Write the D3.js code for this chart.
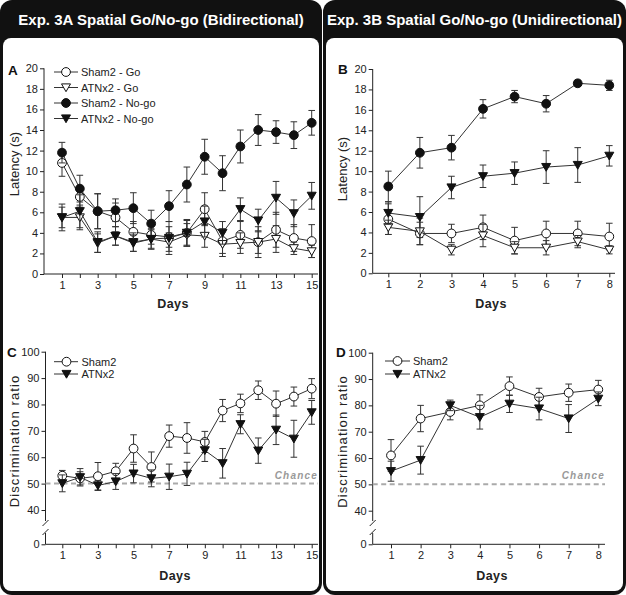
<!DOCTYPE html>
<html><head><meta charset="utf-8">
<script src="https://cdn.jsdelivr.net/npm/d3@7"></script>
<style>
body{margin:0;background:#fff;}
svg{display:block;font-family:"Liberation Sans",Arial,Helvetica,sans-serif;}
</style></head><body>
<svg id="c" width="626" height="595"></svg>
<script>
// ---------- data ----------
const days15 = d3.range(1, 16);
const days8 = d3.range(1, 9);
const latencyTicks = d3.range(0, 21, 2);
const ratioTicks = [0, 40, 50, 60, 70, 80, 90, 100];

// Panel A (Exp 3A, latency)
const aShamGo      = [10.8, 7.5, 6.1, 5.5, 4.1, 3.8, 3.6, 4.0, 6.3, 3.2, 3.8, 3.1, 4.3, 3.5, 3.2];
const aShamGoErr   = [1.3, 1.0, 1.7, 1.4, 1.0, 0.9, 1.0, 1.2, 1.6, 1.2, 1.3, 1.1, 1.7, 1.3, 1.6];
const aAtnGo       = [5.5, 5.5, 3.0, 3.7, 3.1, 3.4, 3.1, 3.8, 3.7, 2.9, 3.0, 3.1, 3.4, 2.5, 2.2];
const aAtnGoErr    = [1.0, 1.2, 0.9, 0.9, 0.9, 1.0, 0.9, 1.1, 1.1, 1.2, 1.0, 1.5, 1.3, 0.6, 0.6];
const aShamNogo    = [11.8, 8.3, 6.1, 6.2, 6.4, 4.9, 6.6, 8.7, 11.4, 9.8, 12.4, 14.0, 13.8, 13.5, 14.7];
const aShamNogoErr = [1.0, 1.3, 1.7, 1.1, 1.5, 1.3, 1.5, 1.7, 1.7, 1.7, 1.6, 1.5, 1.1, 1.3, 1.2];
const aAtnNogo     = [5.5, 6.1, 3.1, 3.7, 3.0, 3.4, 3.5, 4.0, 5.1, 4.0, 6.3, 5.2, 7.4, 5.9, 7.6];
const aAtnNogoErr  = [1.3, 1.6, 1.0, 0.9, 0.8, 0.9, 1.6, 1.3, 1.5, 1.1, 1.1, 1.1, 1.6, 1.3, 1.3];

// Panel B (Exp 3B, latency)
const bShamGo      = [5.3, 3.9, 3.9, 4.5, 3.2, 3.9, 3.9, 3.6];
const bShamGoErr   = [1.5, 1.1, 0.9, 1.2, 1.3, 1.2, 1.2, 1.3];
const bAtnGo       = [4.5, 4.1, 2.3, 3.7, 2.5, 2.5, 3.1, 2.3];
const bAtnGoErr    = [0.7, 1.3, 0.5, 1.1, 0.6, 0.7, 0.6, 0.4];
const bShamNogo    = [8.5, 11.8, 12.3, 16.1, 17.3, 16.6, 18.6, 18.4];
const bShamNogoErr = [1.5, 1.5, 1.2, 0.9, 0.6, 0.8, 0.3, 0.5];
const bAtnNogo     = [5.9, 5.5, 8.4, 9.5, 9.8, 10.4, 10.6, 11.5];
const bAtnNogoErr  = [1.1, 2.0, 1.1, 1.1, 1.1, 1.6, 1.7, 1.0];

// Panel C (Exp 3A, discrimination ratio)
const cSham    = [53.0, 52.0, 52.8, 54.7, 63.3, 56.3, 68.0, 67.3, 65.8, 77.7, 80.4, 85.4, 80.3, 83.0, 86.0];
const cShamErr = [2.0, 2.5, 5.2, 3.0, 5.2, 5.7, 4.2, 5.8, 4.0, 4.2, 3.5, 3.5, 4.8, 3.6, 3.8];
const cAtn     = [50.1, 52.4, 49.3, 50.8, 53.8, 52.0, 52.6, 53.7, 62.6, 57.7, 72.5, 62.5, 70.4, 67.0, 77.0];
const cAtnErr  = [3.2, 3.3, 1.9, 3.0, 3.5, 3.2, 4.8, 4.4, 4.2, 5.6, 3.6, 4.8, 5.6, 7.0, 4.5];

// Panel D (Exp 3B, discrimination ratio)
const dSham    = [61.0, 75.0, 77.5, 80.0, 87.3, 83.2, 84.8, 86.0];
const dShamErr = [6.0, 5.0, 3.0, 4.0, 3.5, 3.3, 3.3, 3.5];
const dAtn     = [55.0, 59.2, 80.0, 75.5, 80.6, 78.8, 75.0, 82.5];
const dAtnErr  = [3.8, 5.3, 2.0, 4.5, 3.3, 4.3, 5.3, 2.6];

const chanceLevel = 50;

// ---------- drawing ----------
const svg = d3.select("#c");
const INK = "#222";

function frame(x, w, title) {
  svg.append("rect").attr("x", x).attr("y", 0).attr("width", w).attr("height", 595)
    .attr("rx", 12).attr("fill", "#111");
  svg.append("rect").attr("x", x + 3).attr("y", 38).attr("width", w - 6).attr("height", 553)
    .attr("rx", 8).attr("fill", "#fff");
  svg.append("text").attr("x", x + w / 2).attr("y", 25).attr("text-anchor", "middle")
    .attr("fill", "#fff").attr("font-weight", "bold").attr("font-size", 15).text(title);
}
frame(0, 322, "Exp. 3A Spatial Go/No-go (Bidirectional)");
frame(323, 303, "Exp. 3B Spatial Go/No-go (Unidirectional)");

const triDown = "M-4.5,-3.6L4.5,-3.6L0,4.2Z";

function marker(g, type, cx, cy) {
  if (type === "circle" || type === "circleOpen") {
    g.append("circle").attr("cx", cx).attr("cy", cy).attr("r", 4.4)
      .attr("fill", type === "circle" ? "#111" : "#fff").attr("stroke", "#111").attr("stroke-width", 1);
  } else {
    g.append("path").attr("d", triDown).attr("transform", `translate(${cx},${cy})`)
      .attr("fill", type === "tri" ? "#111" : "#fff").attr("stroke", "#111").attr("stroke-width", 1);
  }
}

function panel(p) {
  const g = svg.append("g");
  const x = p.x, y = p.y;
  const y0 = y(0);

  // x axis
  const xa = g.append("g").attr("transform", `translate(0,${y0})`)
    .call(d3.axisBottom(x).tickValues(p.days).tickFormat(p.xFmt)
      .tickSize(4).tickPadding(3).tickSizeOuter(0));
  xa.select(".domain").attr("d", `M${p.xr[0]},0H${p.xr[1]}`);

  // y axis
  const ya = g.append("g").attr("transform", `translate(${p.xr[0]},0)`)
    .call(d3.axisLeft(y).tickValues(p.yTicks).tickSize(4).tickPadding(2).tickSizeOuter(0));
  if (p.brk) {
    ya.select(".domain").attr("d", `M0,${y(100)}V${p.brk[0]}M0,${p.brk[1]}V${y0}`);
    ya.append("path").attr("d", `M-3,${p.brk[0] + 5}L3,${p.brk[0] - 1}M-3,${p.brk[1] + 2}L3,${p.brk[1] - 4}`)
      .attr("stroke", INK).attr("fill", "none");
  } else {
    ya.select(".domain").attr("d", `M0,${y(p.yTop)}V${y0}`);
  }
  [xa, ya].forEach(a => {
    a.selectAll("path,line").attr("stroke", INK);
    a.selectAll("text").attr("font-size", 11).attr("fill", INK)
      .attr("font-family", '"Liberation Sans",Arial,sans-serif');
  });

  // chance line
  if (p.chance) {
    g.append("line").attr("x1", p.xr[0]).attr("x2", p.chance.x2)
      .attr("y1", y(chanceLevel)).attr("y2", y(chanceLevel))
      .attr("stroke", "#aaa").attr("stroke-width", 2).attr("stroke-dasharray", "5,3.5");
    g.append("text").attr("x", p.chance.x2).attr("y", y(chanceLevel) - 5)
      .attr("text-anchor", "end").attr("font-size", 10).attr("font-style", "italic")
      .attr("font-weight", "bold").attr("letter-spacing", 1.2).attr("fill", "#999").text("Chance");
  }

  // series
  p.series.forEach(s => {
    const pts = p.days.map((d, i) => ({ d, v: s.vals[i], e: s.err[i] }));
    const eb = g.append("g").attr("stroke", "#333").attr("stroke-width", 1).attr("fill", "none");
    pts.forEach(q => {
      const cx = x(q.d), yt = y(q.v + q.e), yb = y(q.v - q.e);
      eb.append("path").attr("d", `M${cx},${yt}V${yb}M${cx - 3.3},${yt}H${cx + 3.3}M${cx - 3.3},${yb}H${cx + 3.3}`);
    });
    g.append("path").datum(pts)
      .attr("d", d3.line().x(q => x(q.d)).y(q => y(q.v)))
      .attr("fill", "none").attr("stroke", "#333").attr("stroke-width", 1);
    const mg = g.append("g");
    pts.forEach(q => marker(mg, s.type, x(q.d), y(q.v)));
  });

  // legend
  const L = p.legend;
  if (L) {
    p.series.forEach((s, i) => {
      const ly = L.ys[i];
      g.append("line").attr("x1", L.x0).attr("x2", L.x1).attr("y1", ly).attr("y2", ly)
        .attr("stroke", "#333");
      marker(g, s.type, L.xs, ly);
      g.append("text").attr("x", L.xt).attr("y", ly + 4).attr("font-size", 11)
        .attr("fill", INK).text(s.name);
    });
  }

  // panel letter
  g.append("text").attr("x", p.letter[1]).attr("y", p.letter[2]).attr("font-size", 13.5)
    .attr("font-weight", "bold").attr("fill", "#111").text(p.letter[0]);

  // y title
  g.append("text").attr("transform", `translate(${p.yTitle[1]},${p.yTitle[2]}) rotate(-90)`)
    .attr("text-anchor", "middle").attr("font-size", 13).attr("fill", INK)
    .attr("letter-spacing", p.yTitle[3] || 0).text(p.yTitle[0]);

  // x title
  g.append("text").attr("x", p.daysPos[0]).attr("y", p.daysPos[1]).attr("text-anchor", "middle")
    .attr("font-size", 12.5).attr("font-weight", "bold").attr("letter-spacing", 0.4)
    .attr("fill", INK).text("Days");
}

const oddFmt = d => (d % 2 ? d : "");

panel({
  days: days15, xFmt: oddFmt,
  x: d3.scaleLinear().domain([1, 15]).range([62, 311.7]), xr: [44, 318],
  y: d3.scaleLinear().domain([0, 20]).range([274, 68.3]), yTicks: latencyTicks, yTop: 20,
  series: [
    { name: "Sham2 - Go", type: "circleOpen", vals: aShamGo, err: aShamGoErr },
    { name: "ATNx2 - Go", type: "triOpen", vals: aAtnGo, err: aAtnGoErr },
    { name: "Sham2 - No-go", type: "circle", vals: aShamNogo, err: aShamNogoErr },
    { name: "ATNx2 - No-go", type: "tri", vals: aAtnNogo, err: aAtnNogoErr }
  ],
  legend: { x0: 54, x1: 78, xs: 66, xt: 81, ys: [72, 87.5, 103, 118.5] },
  letter: ["A", 8, 75], yTitle: ["Latency (s)", 19, 164], daysPos: [173, 308]
});

panel({
  days: days8, xFmt: d => d,
  x: d3.scaleLinear().domain([1, 8]).range([388.3, 609.3]), xr: [372.7, 615],
  y: d3.scaleLinear().domain([0, 20]).range([273.3, 69]), yTicks: latencyTicks, yTop: 20,
  series: [
    { name: "Sham2 - Go", type: "circleOpen", vals: bShamGo, err: bShamGoErr },
    { name: "ATNx2 - Go", type: "triOpen", vals: bAtnGo, err: bAtnGoErr },
    { name: "Sham2 - No-go", type: "circle", vals: bShamNogo, err: bShamNogoErr },
    { name: "ATNx2 - No-go", type: "tri", vals: bAtnNogo, err: bAtnNogoErr }
  ],
  legend: null,
  letter: ["B", 338, 74], yTitle: ["Latency (s)", 347, 169], daysPos: [491, 308]
});

panel({
  days: days15, xFmt: oddFmt,
  x: d3.scaleLinear().domain([1, 15]).range([62.3, 311.7]), xr: [45.5, 318],
  y: d3.scaleLinear().domain([0, 40, 100]).range([544.3, 510, 351.7]), yTicks: ratioTicks,
  brk: [521, 533], chance: { x2: 318 },
  series: [
    { name: "Sham2", type: "circleOpen", vals: cSham, err: cShamErr },
    { name: "ATNx2", type: "tri", vals: cAtn, err: cAtnErr }
  ],
  legend: { x0: 54, x1: 78, xs: 66.5, xt: 81.5, ys: [361.7, 374] },
  letter: ["C", 7, 357], yTitle: ["Discrimination ratio", 19, 441, 1.1], daysPos: [175, 580]
});

panel({
  days: days8, xFmt: d => d,
  x: d3.scaleLinear().domain([1, 8]).range([391, 598.3]), xr: [372.7, 605],
  y: d3.scaleLinear().domain([0, 40, 100]).range([544.3, 510.7, 352.7]), yTicks: ratioTicks,
  brk: [521, 533], chance: { x2: 605 },
  series: [
    { name: "Sham2", type: "circleOpen", vals: dSham, err: dShamErr },
    { name: "ATNx2", type: "tri", vals: dAtn, err: dAtnErr }
  ],
  legend: { x0: 385, x1: 410, xs: 397.5, xt: 413, ys: [361, 374] },
  letter: ["D", 336, 357], yTitle: ["Discrimination ratio", 347, 441.5, 1.1], daysPos: [492, 580]
});
</script>
</body></html>
